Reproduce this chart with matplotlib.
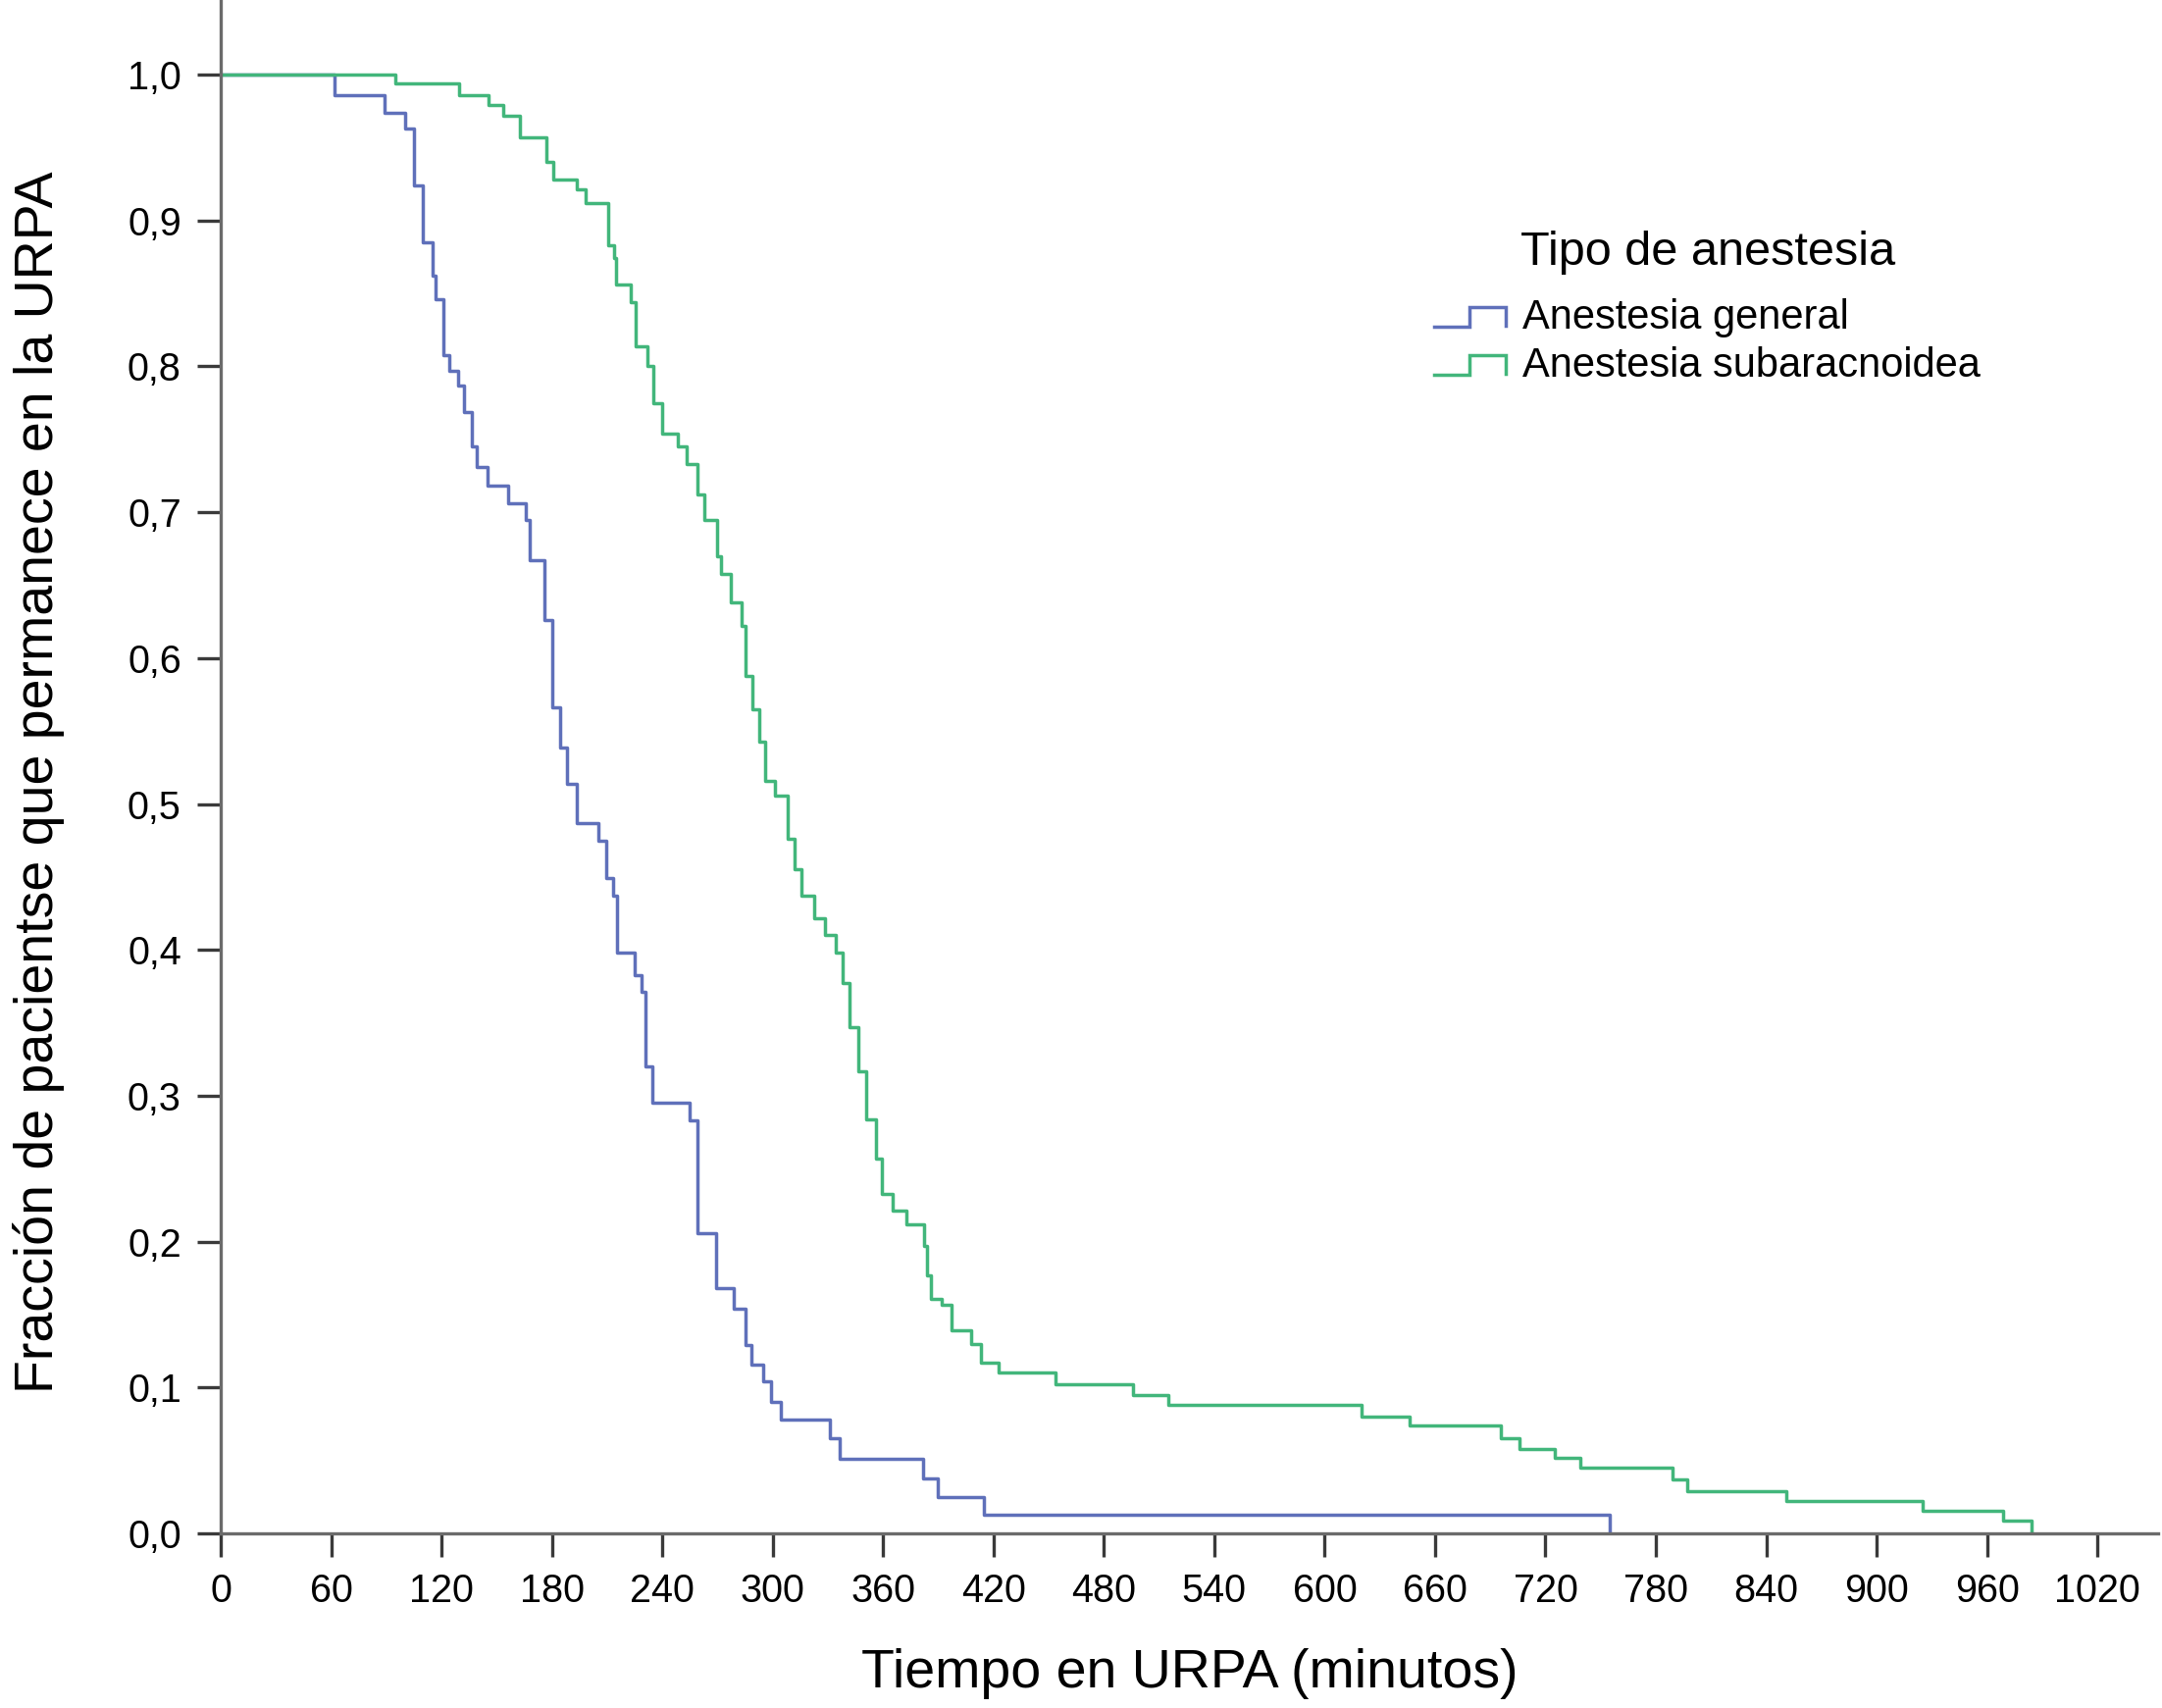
import matplotlib
matplotlib.use("Agg")
import matplotlib.pyplot as plt
from matplotlib.lines import Line2D
from matplotlib.legend_handler import HandlerLine2D

plt.rcParams['font.family'] = ['Liberation Sans', 'DejaVu Sans']

# Kaplan-Meier steps (minutes, fraction remaining)
t_general = [0, 62, 89, 100, 105, 110, 115, 116.5, 121, 124, 129, 132, 136.5, 139, 145,
             156, 166, 168, 176, 180, 184.6, 188, 193.5, 205, 209.5, 213, 215.5, 225,
             228.5, 231, 234.5, 254.8, 259.3, 269, 279, 285, 288.6, 294.8, 299.3, 304.6,
             331.2, 336.6, 381.8, 389.6, 414.8, 755]
s_general = [1.0, 0.986, 0.974, 0.963, 0.924, 0.885, 0.862, 0.846, 0.808, 0.797, 0.787,
             0.769, 0.745, 0.731, 0.718, 0.706, 0.695, 0.667, 0.626, 0.566, 0.539, 0.514,
             0.487, 0.475, 0.449, 0.437, 0.398, 0.383, 0.371, 0.320, 0.295, 0.283, 0.206,
             0.168, 0.154, 0.129, 0.116, 0.104, 0.090, 0.078, 0.065, 0.051, 0.038, 0.025,
             0.013, 0.0]

t_subarac = [0, 95, 129.4, 145.7, 153.3, 162.7, 177, 180.5, 193.7, 198.4, 210.5, 214, 215,
             223, 225.7, 231.7, 235, 240, 248.5, 253.3, 259, 262.6, 270, 272, 277, 283, 285,
             289, 292.8, 296, 301, 308, 311.7, 315.4, 322.4, 328.5, 334.5, 338, 341.5,
             346.3, 351, 356, 359.4, 365.3, 372.4, 382, 384, 386, 392, 397, 408, 413, 423,
             453.6, 496, 515, 620, 646, 696, 706, 725, 739, 789, 797, 851, 925, 969, 984]
s_subarac = [1.0, 0.994, 0.986, 0.979, 0.972, 0.957, 0.940, 0.928, 0.921, 0.912, 0.883,
             0.874, 0.856, 0.844, 0.814, 0.800, 0.775, 0.754, 0.745, 0.733, 0.712, 0.695,
             0.670, 0.658, 0.638, 0.622, 0.588, 0.565, 0.543, 0.516, 0.506, 0.476, 0.455,
             0.437, 0.422, 0.410, 0.398, 0.377, 0.347, 0.317, 0.284, 0.257, 0.233, 0.221,
             0.212, 0.197, 0.177, 0.161, 0.157, 0.139, 0.130, 0.117, 0.110, 0.102, 0.095,
             0.088, 0.080, 0.074, 0.065, 0.058, 0.052, 0.045, 0.037, 0.029, 0.022, 0.0155,
             0.009, 0.0]

series_names = ['Anestesia general', 'Anestesia subaracnoidea']
legend_title = 'Tipo de anestesia'

xticks = [0, 60, 120, 180, 240, 300, 360, 420, 480, 540, 600, 660, 720, 780, 840, 900, 960, 1020]
yticks = [0.0, 0.1, 0.2, 0.3, 0.4, 0.5, 0.6, 0.7, 0.8, 0.9, 1.0]
ytick_labels = ['0,0', '0,1', '0,2', '0,3', '0,4', '0,5', '0,6', '0,7', '0,8', '0,9', '1,0']

blue = '#5f70ba'
green = '#42b67b'


# step shaped legend handle, like in the SPSS output
class StepHandler(HandlerLine2D):
    def create_artists(self, legend, orig_handle, xdescent, ydescent, width, height, fontsize, trans):
        fx = [0, 0.5, 0.5, 1.0, 1.0]
        fy = [0.05, 0.05, 0.75, 0.75, 0.1]
        xs = [-xdescent + width * f for f in fx]
        ys = [-ydescent + height * f for f in fy]
        ln = Line2D(xs, ys, color=orig_handle.get_color(), lw=orig_handle.get_linewidth(),
                    solid_joinstyle='miter')
        ln.set_transform(trans)
        return [ln]


fig = plt.figure(figsize=(22.04, 17.41), dpi=100)
ax = fig.add_axes([0.1021, 0.1022, 0.8961, 0.8978])

l1, = ax.step(t_general, s_general, where='post', color=blue, lw=2.5, label=series_names[0])
l2, = ax.step(t_subarac, s_subarac, where='post', color=green, lw=2.5, label=series_names[1])

ax.set_xlim(0, 1053)
ax.set_ylim(0, 1.0511)

ax.set_xticks(xticks)
ax.set_xticklabels([str(v) for v in xticks])
ax.set_yticks(yticks)
ax.set_yticklabels(ytick_labels)

for s in ['top', 'right']:
    ax.spines[s].set_visible(False)
for s in ['left', 'bottom']:
    ax.spines[s].set_color('#6b6b6b')
    ax.spines[s].set_linewidth(2.4)

ax.tick_params(axis='both', direction='out', length=17, width=2.4, color='#3a3a3a',
               labelsize=28.5, labelcolor='black')
ax.tick_params(axis='y', pad=12)
ax.tick_params(axis='x', pad=12)

ax.set_xlabel('Tiempo en URPA (minutos)', fontsize=40, labelpad=28)
ax.set_ylabel('Fracción de pacientse que permanece en la URPA', fontsize=40, labelpad=46)
ax.yaxis.label.set_y(0.49)

leg = ax.legend(handles=[l1, l2], title=legend_title, loc='upper left',
                bbox_to_anchor=(1462 / 2204, 1 - 235 / 1741), bbox_transform=fig.transFigure,
                frameon=False, fontsize=30, title_fontsize=35, borderpad=0, borderaxespad=0,
                handlelength=1.75, handletextpad=0.42, labelspacing=0.22,
                handler_map={Line2D: StepHandler()})
leg._legend_box.sep = 17

fig.savefig('out.png', dpi=100)
